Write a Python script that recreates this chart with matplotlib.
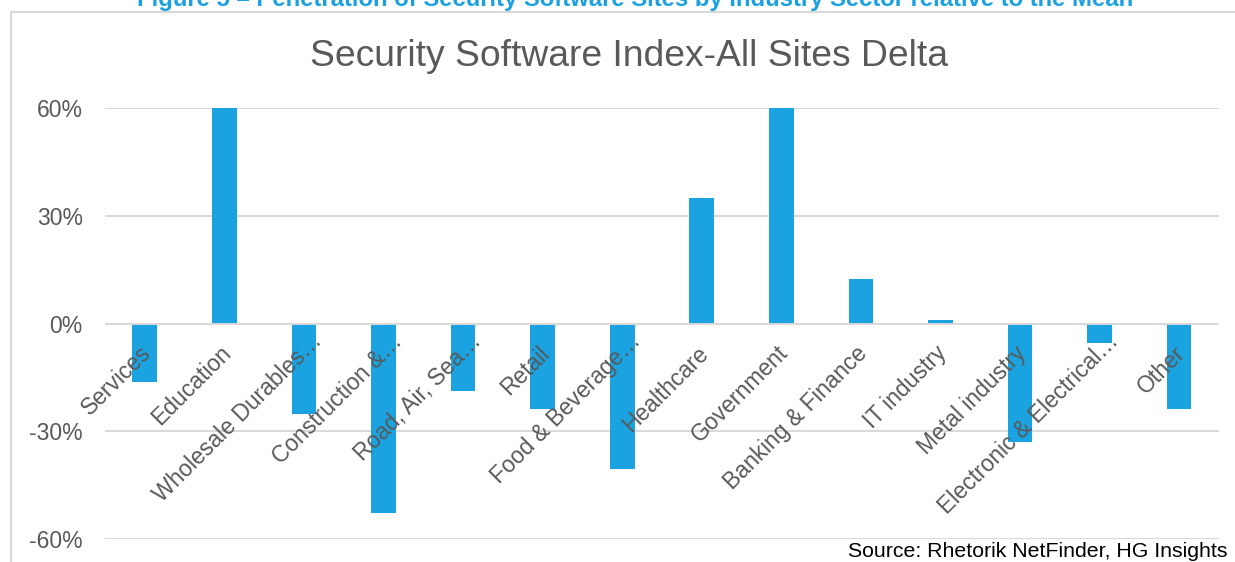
import matplotlib.pyplot as plt
from matplotlib.lines import Line2D
from matplotlib.ticker import FixedLocator

plt.rcParams['font.family'] = ['Liberation Sans', 'DejaVu Sans']

sectors = ['Services', 'Education', 'Wholesale Durables…', 'Construction &…',
           'Road, Air, Sea…', 'Retail', 'Food & Beverage…', 'Healthcare',
           'Government', 'Banking & Finance', 'IT industry', 'Metal industry',
           'Electronic & Electrical…', 'Other']
delta = [-16.2, 60.0, -25.3, -52.7, -18.7, -23.7, -40.4, 35.1,
         60.0, 12.5, 1.1, -33.0, -5.4, -23.7]
y_ticks = [-60, -30, 0, 30, 60]

bar_color = '#1AA3E0'
grid_color = '#D9D9D9'
text_grey = '#595959'

fig = plt.figure(figsize=(12.35, 5.62), dpi=100)
ax = fig.add_axes([0.0850, 0.0409, 0.9020, 0.7664])

x = range(len(sectors))
ax.bar(x, delta, width=0.31, color=bar_color, zorder=2)

ax.set_xlim(-0.5, len(sectors) - 0.5)
ax.set_ylim(-60, 60)
ax.yaxis.set_major_locator(FixedLocator(y_ticks))
ax.set_yticklabels([f'{v}%' for v in y_ticks])
ax.set_xticks([])
ax.tick_params(axis='y', length=0, pad=16, labelsize=16.5, labelcolor=text_grey)
ax.grid(axis='y', color=grid_color, linewidth=1.4, zorder=1)
ax.axhline(0, color=grid_color, linewidth=1.4, zorder=3)
for s in ax.spines.values():
    s.set_visible(False)

# category names sit just under the zero line, slanted;
# a trailing ellipsis hangs past the label's anchor
for i, name in enumerate(sectors):
    dx, dy = 2.2, -18.7
    if name.endswith('…'):
        dx, dy = dx + 8.6, dy + 8.6
    ax.annotate(name, xy=(i, 0), xytext=(dx, dy), textcoords='offset points',
                rotation=45, rotation_mode='anchor', ha='right', va='center',
                fontsize=16.5, color=text_grey, annotation_clip=False)

fig.text(0.509, 1 - 66 / 562, 'Security Software Index-All Sites Delta',
         ha='center', va='baseline', fontsize=26.8, color=text_grey)

fig.text(635 / 1235, 1 - 6 / 562,
         'Figure 5 – Penetration of Security Software Sites by Industry Sector relative to the Mean',
         ha='center', va='baseline', fontsize=17.2, fontweight='bold', color='#1BA1E2')

fig.text(1228 / 1235, 1 - 557 / 562, 'Source: Rhetorik NetFinder, HG Insights',
         ha='right', va='baseline', fontsize=15.3, color='black')

# chart frame running off the right and bottom edges
x0 = 11 / 1235
y0 = 1 - 12 / 562
fig.add_artist(Line2D([x0, x0], [0, y0], color=grid_color, linewidth=1.5))
fig.add_artist(Line2D([x0, 1], [y0, y0], color=grid_color, linewidth=1.5))

fig.savefig('out.png', dpi=100)
